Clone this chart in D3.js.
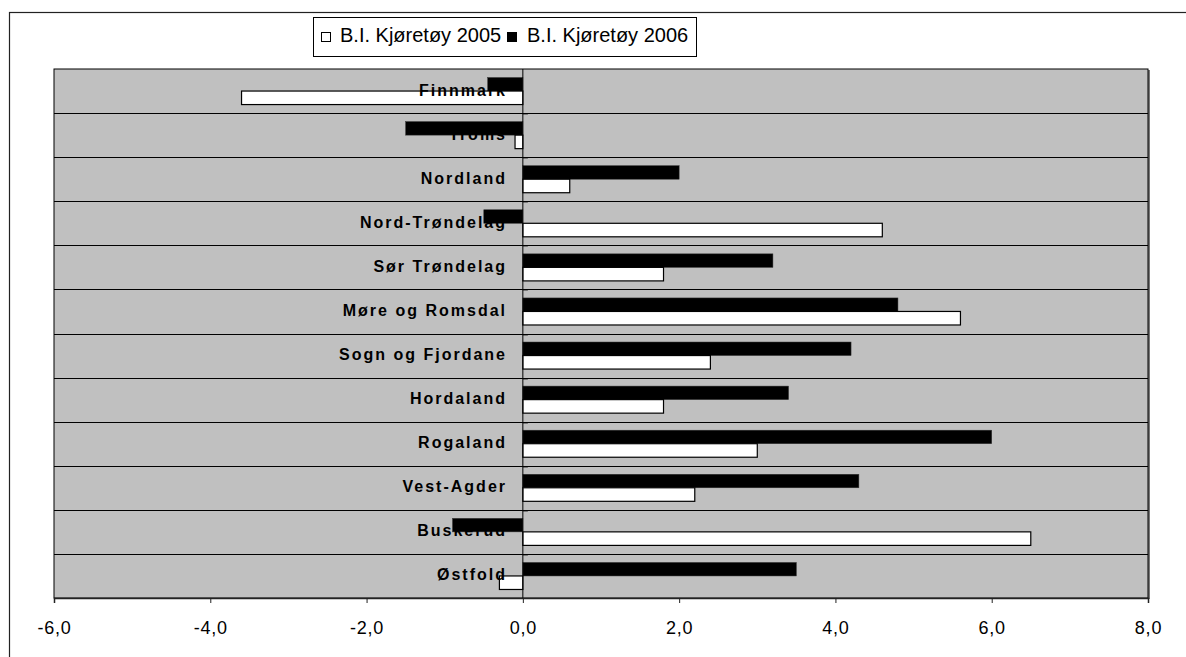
<!DOCTYPE html>
<html>
<head>
<meta charset="utf-8">
<script src="https://cdn.jsdelivr.net/npm/d3@7"></script>
<style>
  body { margin: 0; background: #fff; }
  svg { display: block; font-family: "Liberation Sans", Arial, sans-serif; }
</style>
</head>
<body>
<svg class="chart-svg" width="1186" height="657"></svg>
<script>
// Data
const counties = ["Finnmark", "Troms", "Nordland", "Nord-Trøndelag", "Sør Trøndelag",
    "Møre og Romsdal", "Sogn og Fjordane", "Hordaland", "Rogaland", "Vest-Agder",
    "Buskerud", "Østfold"];
const values2005 = [-3.6, -0.1, 0.6, 4.6, 1.8, 5.6, 2.4, 1.8, 3.0, 2.2, 6.5, -0.3];
const values2006 = [-0.45, -1.5, 2.0, -0.5, 3.2, 4.8, 4.2, 3.4, 6.0, 4.3, -0.9, 3.5];
const seriesNames = ["B.I. Kjøretøy 2005", "B.I. Kjøretøy 2006"];
const tickValues = [-6, -4, -2, 0, 2, 4, 6, 8];

function createChart() {
    const svg = d3.select(".chart-svg");

    // outer chart border (runs off the right and bottom of the picture)
    svg.append("rect")
        .attr("x", 9.5).attr("y", 12.5)
        .attr("width", 1200).attr("height", 700)
        .attr("fill", "#fff")
        .attr("stroke", "#222")
        .attr("stroke-width", 1.2);

    const left = 54, right = 1148, top = 69, bottom = 598;

    const x = d3.scaleLinear().domain([-6, 8]).range([left, right]);
    const y = d3.scaleBand().domain(counties).range([top, bottom]).paddingInner(0).paddingOuter(0);
    const ySub = d3.scaleBand().domain(["2006", "2005"]).range([0, y.bandwidth()]).paddingInner(0).paddingOuter(0.63);

    // plot area with shadow on the right
    svg.append("rect")
        .attr("x", right).attr("y", top + 1)
        .attr("width", 2).attr("height", bottom - top)
        .attr("fill", "#777");
    svg.append("rect")
        .attr("x", left).attr("y", top)
        .attr("width", right - left).attr("height", bottom - top)
        .attr("fill", "#c0c0c0")
        .attr("stroke", "#000")
        .attr("stroke-width", 1);

    // row lines between categories
    svg.append("g")
        .selectAll("line")
        .data(counties.slice(1))
        .enter()
        .append("line")
        .attr("x1", left).attr("x2", right)
        .attr("y1", d => Math.round(y(d)) + 0.5)
        .attr("y2", d => Math.round(y(d)) + 0.5)
        .attr("stroke", "#000")
        .attr("stroke-width", 1);

    // small ticks at the zero axis
    svg.append("g")
        .selectAll("line")
        .data(counties.slice(1))
        .enter()
        .append("line")
        .attr("x1", x(0)).attr("x2", x(0) + 5)
        .attr("y1", d => Math.round(y(d)) + 1.5)
        .attr("y2", d => Math.round(y(d)) + 1.5)
        .attr("stroke", "#777")
        .attr("stroke-width", 1);

    // bars
    const rows = counties.map((c, i) => ({ county: c, v2005: values2005[i], v2006: values2006[i] }));

    svg.append("g")
        .selectAll("rect")
        .data(rows)
        .enter()
        .append("rect")
        .attr("x", d => x(Math.min(0, d.v2006)))
        .attr("y", d => y(d.county) + ySub("2006"))
        .attr("width", d => Math.abs(x(d.v2006) - x(0)))
        .attr("height", ySub.bandwidth())
        .attr("fill", "#000")
        .attr("stroke", "#333")
        .attr("stroke-width", 0.5);

    svg.append("g")
        .selectAll("rect")
        .data(rows)
        .enter()
        .append("rect")
        .attr("x", d => x(Math.min(0, d.v2005)))
        .attr("y", d => y(d.county) + ySub("2005"))
        .attr("width", d => Math.abs(x(d.v2005) - x(0)))
        .attr("height", ySub.bandwidth())
        .attr("fill", "#fff")
        .attr("stroke", "#000")
        .attr("stroke-width", 1.2);

    // zero axis
    svg.append("line")
        .attr("x1", x(0)).attr("x2", x(0))
        .attr("y1", top).attr("y2", bottom)
        .attr("stroke", "#000")
        .attr("stroke-width", 1);

    // category labels are drawn on top (black on black bars disappears)
    svg.append("g")
        .selectAll("text")
        .data(counties)
        .enter()
        .append("text")
        .attr("x", 507)
        .attr("y", d => y(d) + y.bandwidth() / 2 + 4.5)
        .attr("text-anchor", "end")
        .attr("font-size", 16)
        .attr("font-weight", "bold")
        .attr("letter-spacing", 2)
        .attr("fill", "#000")
        .text(d => d);

    // value axis
    const xAxis = d3.axisBottom(x)
        .tickValues(tickValues)
        .tickSize(5)
        .tickPadding(0)
        .tickFormat(d => d3.format(".1f")(d).replace(".", ",").replace("−", "-"));

    const axisG = svg.append("g")
        .attr("transform", `translate(0,${bottom})`)
        .call(xAxis);
    axisG.select(".domain").attr("stroke", "#222").attr("stroke-width", 1.5);
    axisG.selectAll(".tick line").attr("stroke", "#222");
    axisG.selectAll(".tick text")
        .attr("y", 36)
        .attr("dy", null)
        .attr("font-size", 18)
        .attr("letter-spacing", 0.8)
        .attr("font-family", "\"Liberation Sans\", Arial, sans-serif")
        .attr("fill", "#000");

    // legend
    const legend = svg.append("g");
    legend.append("rect")
        .attr("x", 313.5).attr("y", 17.5)
        .attr("width", 383).attr("height", 39)
        .attr("fill", "#fff")
        .attr("stroke", "#000");

    const items = [
        { name: seriesNames[0], fill: "#fff", sx: 321, tx: 340 },
        { name: seriesNames[1], fill: "#000", sx: 507, tx: 527 }
    ];
    legend.selectAll("rect.key")
        .data(items)
        .enter()
        .append("rect")
        .attr("class", "key")
        .attr("x", d => d.sx + 0.5).attr("y", 32.5)
        .attr("width", 9).attr("height", 9)
        .attr("fill", d => d.fill)
        .attr("stroke", "#000");
    legend.selectAll("text")
        .data(items)
        .enter()
        .append("text")
        .attr("x", d => d.tx)
        .attr("y", 42)
        .attr("font-size", 20)
        .attr("fill", "#000")
        .text(d => d.name);
}

document.addEventListener('DOMContentLoaded', function () {
    createChart();
});
</script>
</body>
</html>
